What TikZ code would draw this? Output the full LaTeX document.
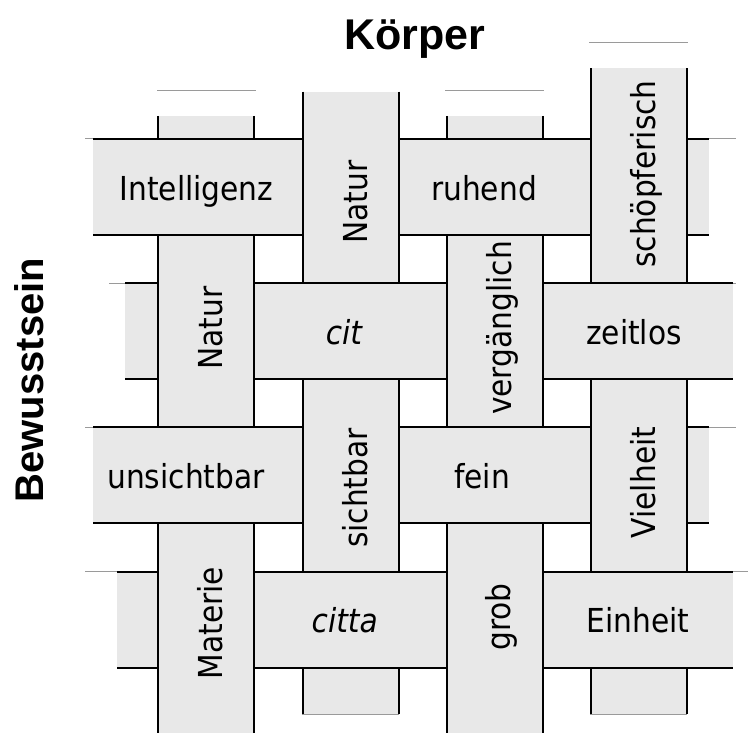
\documentclass[tikz,border=0pt]{standalone}
\usepackage{fontspec}
\setmainfont{DejaVu Sans}[FakeStretch=0.9]
\newfontfamily\headfont{Liberation Sans}
\definecolor{strip}{HTML}{E8E8E8}
\definecolor{faint}{HTML}{9A9A9A}

\begin{document}
\begin{tikzpicture}[x=1pt,y=-1pt,
  band/.style={fill=strip},
  edge/.style={draw=black,line width=2pt},
  thinline/.style={draw=faint,line width=0.9pt},
  lbl/.style={font=\fontsize{33}{40}\selectfont,inner sep=0pt,anchor=base},
  vlbl/.style={lbl,rotate=90},
  head/.style={inner sep=0pt,anchor=base}]

\useasboundingbox (0,0) rectangle (749,733);

% vertical strips: left edge / top / bottom
\foreach \x/\t/\b in {158/116/733, 303/91.7/714, 446.5/116/733, 591/68.3/714} {
  \fill[band] (\x,\t) rectangle (\x+96,\b);
  \draw[edge] (\x,\t) -- (\x,\b) (\x+96,\t) -- (\x+96,\b);
}

% horizontal strips: top edge / left / right
\foreach \y/\l/\r in {139/93/709, 283/125/733, 427/93/709, 571.5/117/733} {
  \fill[band] (\l,\y) rectangle (\r,\y+96);
  \draw[edge] (\l,\y) -- (\r,\y) (\l,\y+96) -- (\r,\y+96);
}

% vertical strips passing over the horizontal ones
\foreach \x/\y in {303/139, 591/139, 158/283, 446.5/283, 303/427, 591/427, 158/571.5, 446.5/571.5} {
  \fill[band] (\x,\y-1.5) rectangle (\x+96,\y+97.5);
  \draw[edge] (\x,\y-1.5) -- (\x,\y+97.5) (\x+96,\y-1.5) -- (\x+96,\y+97.5);
}

% thin grey strip outlines at the cut ends
\draw[thinline] (157,90) -- (256,90) (445,90) -- (544,90) (589,42.3) -- (688,42.3)
  (302,714) -- (399,714) (590,714) -- (687,714)
  (85,138.5) -- (93,138.5) (709,138.5) -- (736,138.5)
  (109,283) -- (125,283) (733,283) -- (736,283)
  (85,427) -- (93,427) (709,427) -- (736,427)
  (85,571) -- (117,571) (733,571) -- (748,571);

% labels on the horizontal strips
\node[lbl] (intelligenz) at (196.5,200) {Intelligenz};
\node[lbl] (ruhend) at (484,200) {ruhend};
\node[lbl] (cit) at (344,344) {\itshape cit};
\node[lbl] (zeitlos) at (634,344) {zeitlos};
\node[lbl] (unsichtbar) at (186,488) {unsichtbar};
\node[lbl] (fein) at (482,488) {fein};
\node[lbl] (citta) at (344.7,632.5) {\itshape citta};
\node[lbl] (einheit) at (638,632.5) {Einheit};

% labels on the vertical strips
\node[vlbl] (natura) at (367.5,202) {Natur};
\node[vlbl] (schoepf) at (655,174) {schöpferisch};
\node[vlbl] (naturb) at (222.5,328) {Natur};
\node[vlbl] (vergaengl) at (511,328) {vergänglich};
\node[vlbl] (sichtbar) at (367.5,488) {sichtbar};
\node[vlbl] (vielheit) at (655.5,482.5) {Vielheit};
\node[vlbl] (materie) at (222.5,623) {Materie};
\node[vlbl] (grob) at (510,617) {grob};

% axis titles
\node[head,font=\headfont\bfseries\fontsize{43}{50}\selectfont] (koerper) at (415,50) {Körper};
\node[head,rotate=90,font=\headfont\bfseries\fontsize{40}{48}\selectfont] (bewusst) at (43,380) {Bewusstsein};
\end{tikzpicture}
\end{document}
